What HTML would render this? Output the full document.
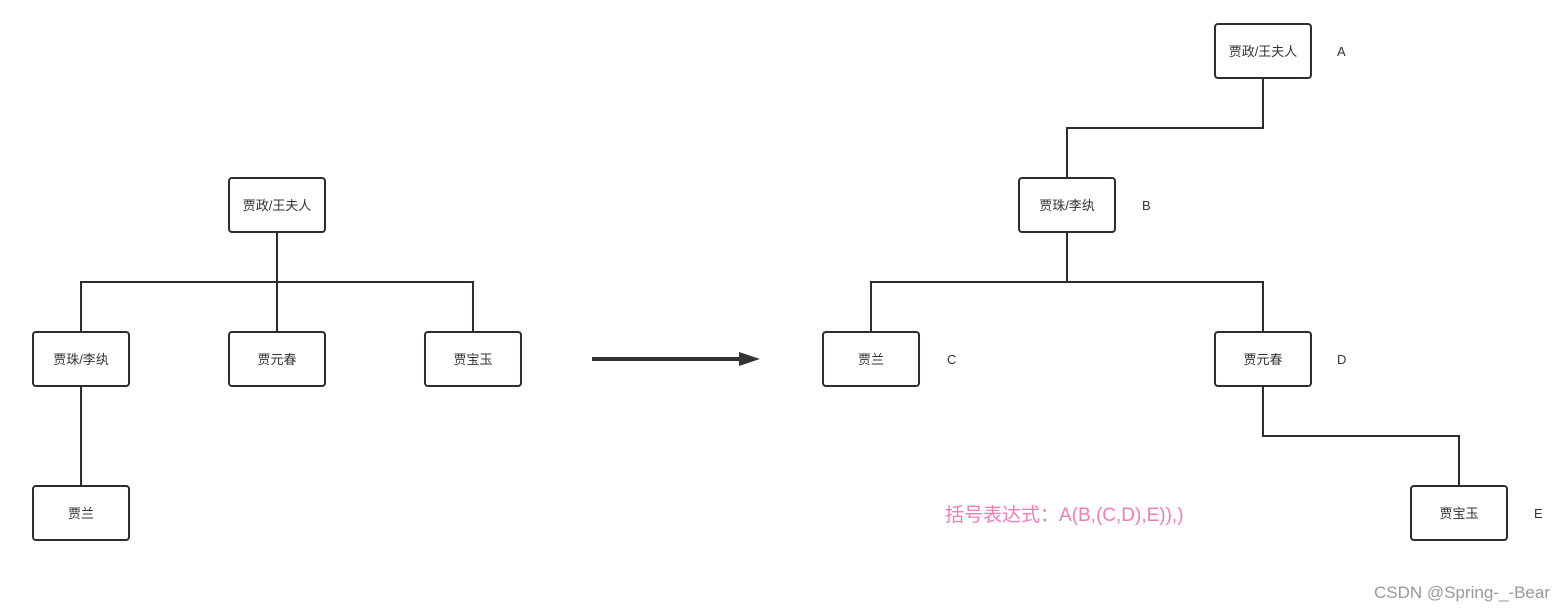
<!DOCTYPE html>
<html><head><meta charset="utf-8"><style>
html,body{margin:0;padding:0;background:#fff;}
svg{display:block}
text{font-family:"Liberation Sans","Noto Sans CJK SC",sans-serif;}
</style></head><body>
<svg width="1566" height="611" viewBox="0 0 1566 611" xmlns="http://www.w3.org/2000/svg">
<g fill="none" stroke="#2a2d33" stroke-width="2">
<path d="M277 232 V282 M81 332 V282 H473 V332 M277 282 V332 M81 386 V486"/>
<path d="M1263 78 V128 H1067 V178 M1067 232 V282 H871 V332 M1067 282 H1263 V332 M1263 386 V436 H1459 V486"/>
<rect x="229" y="178" width="96" height="54" rx="3"/>
<rect x="33" y="332" width="96" height="54" rx="3"/>
<rect x="229" y="332" width="96" height="54" rx="3"/>
<rect x="425" y="332" width="96" height="54" rx="3"/>
<rect x="33" y="486" width="96" height="54" rx="3"/>
<rect x="1215" y="24" width="96" height="54" rx="3"/>
<rect x="1019" y="178" width="96" height="54" rx="3"/>
<rect x="823" y="332" width="96" height="54" rx="3"/>
<rect x="1215" y="332" width="96" height="54" rx="3"/>
<rect x="1411" y="486" width="96" height="54" rx="3"/>
</g>
<line x1="592" y1="359" x2="742" y2="359" stroke="#333" stroke-width="4"/>
<polygon points="739,352 760,359 739,366" fill="#333"/>
<g font-size="13" fill="#333" text-anchor="middle">
<text x="277" y="210">贾政/王夫人</text>
<text x="81" y="364">贾珠/李纨</text>
<text x="277" y="364">贾元春</text>
<text x="473" y="364">贾宝玉</text>
<text x="81" y="518">贾兰</text>
<text x="1263" y="56">贾政/王夫人</text>
<text x="1067" y="210">贾珠/李纨</text>
<text x="871" y="364">贾兰</text>
<text x="1263" y="364">贾元春</text>
<text x="1459" y="518">贾宝玉</text>
</g>
<g font-size="13" fill="#333">
<text x="1337" y="56">A</text>
<text x="1142" y="210">B</text>
<text x="947" y="364">C</text>
<text x="1337" y="364">D</text>
<text x="1534" y="518">E</text>
</g>
<text x="945" y="521" font-size="19" fill="#f07cb8">括号表达式：A(B,(C,D),E)),)</text>
<text x="1550" y="598" font-size="17" fill="#999" text-anchor="end">CSDN @Spring-_-Bear</text>
</svg>
</body></html>
